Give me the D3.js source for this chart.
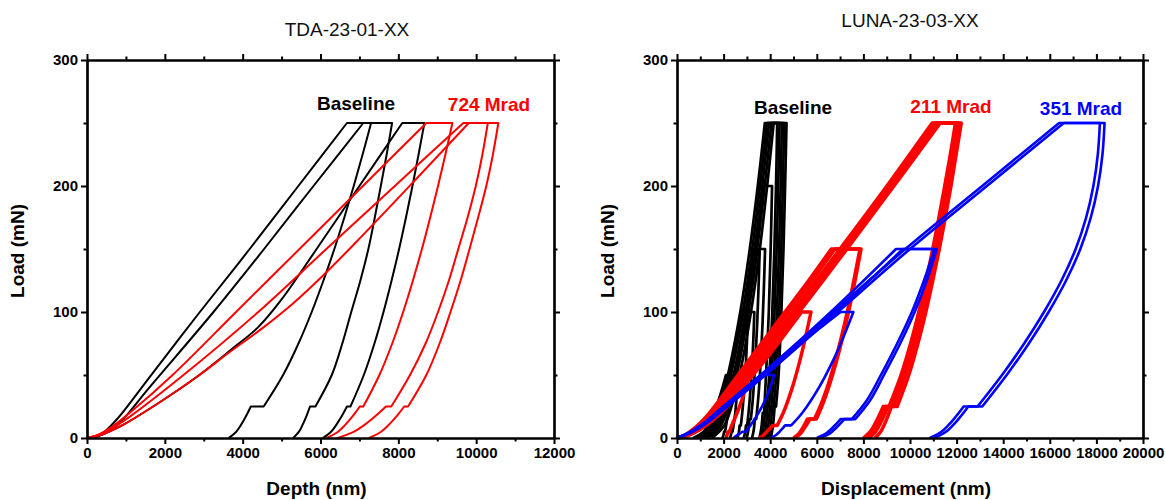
<!DOCTYPE html>
<html>
<head>
<meta charset="utf-8">
<script src="https://cdn.jsdelivr.net/npm/d3@7"></script>
<style>
  body { margin: 0; background: #fff; }
  text { font-family: Arial, "Liberation Sans", sans-serif; }
</style>
</head>
<body>
<svg id="chart" width="1165" height="500"></svg>
<script>
// ---------- axis ticks ----------
const loadTicks = [0, 100, 200, 300];
const loadMinor = [50, 150, 250];
const depthTicks = [0, 2000, 4000, 6000, 8000, 10000, 12000];
const depthMinor = [1000, 3000, 5000, 7000, 9000, 11000];
const dispTicks = [0, 2000, 4000, 6000, 8000, 10000, 12000, 14000, 16000, 18000, 20000];
const dispMinor = [1000, 3000, 5000, 7000, 9000, 11000, 13000, 15000, 17000, 19000];

// ---------- TDA-23-01-XX : [depth nm, load mN] ----------
// load = loading branch, unload = unloading down to the 10 % hold, tail = after the hold
const tdaBaseline = [
  { load: [[0,0],[200,1],[450,5],[800,16],[1600,48],[2900,100],[4180,150],[5430,200],[6680,250]],
    unload: [[7300,250],[7082,225],[6854,200],[6612,175],[6356,150],[6076,125],[5774,100],[5434,75],[5039,50],[4540,25]],
    tail: [[4210,25],[4131,20],[4045,15],[3950,10],[3835,5],[3640,0]] },
  { load: [[0,0],[250,1],[550,5],[900,14],[1600,40],[3250,100],[4550,150],[5820,200],[7100,250]],
    unload: [[7840,250],[7700,225],[7550,200],[7395,175],[7230,150],[7025,125],[6790,100],[6560,75],[6290,50],[5870,25]],
    tail: [[5730,25],[5671,20],[5606,15],[5533,10],[5447,5],[5300,0]] },
  { load: [[0,0],[400,3],[900,10],[1800,27],[2800,48],[3700,70],[4400,88],[5000,110],[5900,150],[7000,200],[8100,250]],
    unload: [[8670,250],[8520,225],[8363,200],[8196,175],[8020,150],[7827,125],[7619,100],[7386,75],[7113,50],[6770,25]],
    tail: [[6680,25],[6594,20],[6501,15],[6397,10],[6272,5],[6060,0]] }
];
const tda724 = [
  { load: [[0,0],[250,2],[600,8],[1100,20],[2200,50],[3830,100],[5460,150],[7090,200],[8720,250]],
    unload: [[9390,250],[9209,225],[9020,200],[8819,175],[8606,150],[8375,125],[8124,100],[7843,75],[7514,50],[7100,25]],
    tail: [[7010,25],[6893,20],[6764,15],[6622,10],[6451,5],[6160,0]] },
  { load: [[0,0],[250,2],[600,7],[1100,17],[2400,48],[4400,100],[6150,150],[7910,200],[9670,250]],
    unload: [[10300,250],[10160,225],[9990,200],[9780,175],[9540,150],[9300,125],[9020,100],[8700,75],[8300,50],[7820,25]],
    tail: [[7680,25],[7509,20],[7322,15],[7113,10],[6864,5],[6440,0]] },
  { load: [[0,0],[400,3],[900,10],[1800,27],[2800,48],[3700,69],[4500,87],[5300,107],[6100,130],[6900,155],[8350,202],[9810,250]],
    unload: [[10570,250],[10430,225],[10260,200],[10050,175],[9830,150],[9600,125],[9340,100],[9060,75],[8720,50],[8250,25]],
    tail: [[8150,25],[8026,20],[7890,15],[7739,10],[7558,5],[7250,0]] }
];

// ---------- LUNA-23-03-XX : [displacement nm, load mN] ----------
const lunaBaseline = [
  { load: [[900,0],[1474,10],[1808,25],[2183,50],[2715,100],[3123,150],[3467,200],[3770,250]],
    unload: [[4300,250],[4250,200],[4180,150],[4090,100],[3960,50],[3850,25]],
    tail: [[3790,25],[3720,10],[3620,0]] },
  { load: [[1050,0],[1612,10],[1939,25],[2307,50],[2827,100],[3227,150],[3563,200],[3860,250]],
    unload: [[4400,250],[4345,200],[4275,150],[4185,100],[4060,50],[3950,25]],
    tail: [[3890,25],[3820,10],[3720,0]] },
  { load: [[1200,0],[1750,10],[2070,25],[2430,50],[2940,100],[3330,150],[3660,200],[3950,250]],
    unload: [[4500,250],[4450,200],[4380,150],[4290,100],[4160,50],[4050,25]],
    tail: [[3990,25],[3920,10],[3830,0]] },
  { load: [[1350,0],[1890,10],[2204,25],[2557,50],[3058,100],[3442,150],[3765,200],[4050,250]],
    unload: [[4600,250],[4545,200],[4475,150],[4385,100],[4260,50],[4150,25]],
    tail: [[4090,25],[4020,10],[3930,0]] },
  { load: [[1500,0],[2030,10],[2337,25],[2685,50],[3175,100],[3554,150],[3869,200],[4150,250]],
    unload: [[4700,250],[4640,200],[4570,150],[4480,100],[4360,50],[4250,25]],
    tail: [[4190,25],[4120,10],[4030,0]] },
  { load: [[1200,0],[1990,20],[2450,50],[2968,100],[3365,150],[3700,200]],
    unload: [[4080,200],[4020,150],[3940,100],[3820,50],[3740,20]],
    tail: [[3680,20],[3620,8],[3540,0]] },
  { load: [[1000,0],[1711,15],[2006,30],[2423,60],[2743,90],[3012,120],[3250,150]],
    unload: [[3550,150],[3500,120],[3440,90],[3360,60],[3250,30],[3170,15]],
    tail: [[3110,15],[3060,6],[2990,0]] },
  { load: [[1300,0],[1980,15],[2261,30],[2660,60],[2965,90],[3223,120],[3450,150]],
    unload: [[3780,150],[3730,120],[3670,90],[3590,60],[3480,30],[3400,15]],
    tail: [[3340,15],[3290,6],[3220,0]] },
  { load: [[800,0],[1432,10],[1694,20],[2065,40],[2349,60],[2589,80],[2800,100]],
    unload: [[3050,100],[3010,80],[2960,60],[2890,40],[2800,20],[2740,10]],
    tail: [[2690,10],[2650,4],[2590,0]] },
  { load: [[1100,0],[1717,10],[1972,20],[2333,40],[2610,60],[2844,80],[3050,100]],
    unload: [[3320,100],[3280,80],[3230,60],[3160,40],[3070,20],[3010,10]],
    tail: [[2960,10],[2920,4],[2860,0]] },
  { load: [[700,0],[1143,5],[1326,10],[1585,20],[1784,30],[1952,40],[2100,50]],
    unload: [[2300,50],[2270,40],[2230,30],[2180,20],[2110,10],[2060,5]],
    tail: [[2020,5],[1990,2],[1950,0]] },
  { load: [[1000,0],[1443,5],[1626,10],[1885,20],[2084,30],[2252,40],[2400,50]],
    unload: [[2620,50],[2590,40],[2550,30],[2500,20],[2430,10],[2380,5]],
    tail: [[2340,5],[2310,2],[2270,0]] }
];
const luna211 = [
  { load: [[0,0],[350,2],[800,7],[1500,19],[2500,42],[3550,67],[4650,93],[6750,144],[8850,196],[10950,250]],
    unload: [[11950,250],[11730,225],[11490,200],[11240,175],[10975,150],[10690,125],[10375,100],[10025,75],[9615,50],[9100,25]],
    tail: [[8850,25],[8733,20],[8604,15],[8462,10],[8291,5],[8000,0]] },
  { load: [[0,0],[380,2],[850,7],[1580,19],[2580,42],[3630,67],[4730,93],[6830,144],[8930,196],[11050,250]],
    unload: [[12030,250],[11810,225],[11570,200],[11320,175],[11060,150],[10775,125],[10460,100],[10115,75],[9710,50],[9200,25]],
    tail: [[8950,25],[8835,20],[8710,15],[8570,10],[8410,5],[8120,0]] },
  { load: [[0,0],[400,2],[900,7],[1650,19],[2650,42],[3700,67],[4800,93],[6900,144],[9000,196],[11150,250]],
    unload: [[12100,250],[11880,225],[11650,200],[11400,175],[11140,150],[10860,125],[10550,100],[10210,75],[9810,50],[9300,25]],
    tail: [[9050,25],[8940,20],[8820,15],[8685,10],[8525,5],[8250,0]] },
  { load: [[0,0],[450,2],[1000,7],[1800,19],[2800,42],[3850,67],[4950,93],[7050,144],[9150,196],[11300,250]],
    unload: [[12200,250],[11980,225],[11760,200],[11515,175],[11260,150],[10980,125],[10680,100],[10340,75],[9950,50],[9450,25]],
    tail: [[9200,25],[9103,20],[8998,15],[8880,10],[8739,5],[8500,0]] },
  { load: [[0,0],[300,2],[700,7],[1350,19],[2300,42],[3300,67],[4350,93],[5650,125],[6620,150]],
    unload: [[7850,150],[7535,120],[7183,90],[6772,60],[6253,30],[5900,15]],
    tail: [[5600,15],[5517,12],[5427,9],[5326,6],[5205,3],[5000,0]] },
  { load: [[0,0],[350,2],[780,7],[1450,19],[2420,42],[3430,67],[4490,93],[5800,125],[6780,150]],
    unload: [[7900,150],[7590,120],[7240,90],[6830,60],[6320,30],[5980,15]],
    tail: [[5700,15],[5610,12],[5510,9],[5400,6],[5270,3],[5060,0]] },
  { load: [[0,0],[450,2],[1000,7],[1850,19],[2900,42],[4000,67],[5350,100]],
    unload: [[5750,100],[5516,80],[5254,60],[4948,40],[4562,20],[4300,10]],
    tail: [[4100,10],[4010,8],[3910,6],[3800,4],[3700,2],[3530,0]] },
  { load: [[0,0],[350,2],[800,7],[1500,19],[2300,38],[2700,50]],
    unload: [[3100,50],[2950,40],[2780,30],[2580,20],[2350,10],[2250,5]],
    tail: [[2200,5],[2160,3],[2100,0]] }
];
const luna351 = [
  { load: [[0,0],[500,4],[1100,11],[2000,25],[3600,50],[6700,100],[9800,150],[13100,200],[16400,250]],
    unload: [[18150,250],[18060,225],[17870,200],[17560,175],[17110,150],[16500,125],[15750,100],[14900,75],[13950,50],[12900,25]],
    tail: [[12300,25],[12100,20],[11881,15],[11637,10],[11346,5],[10850,0]] },
  { load: [[0,0],[550,4],[1200,11],[2150,25],[3800,50],[6900,100],[10000,150],[13300,200],[16600,250]],
    unload: [[18350,250],[18260,225],[18070,200],[17760,175],[17310,150],[16700,125],[15950,100],[15100,75],[14150,50],[13100,25]],
    tail: [[12500,25],[12300,20],[12081,15],[11837,10],[11546,5],[11050,0]] },
  { load: [[0,0],[500,4],[1100,11],[2000,25],[3600,50],[6600,100],[9400,150]],
    unload: [[11050,150],[10600,125],[10080,100],[9450,75],[8750,50],[8150,30],[7500,15]],
    tail: [[7020,15],[6880,12],[6720,9],[6550,6],[6350,3],[6000,0]] },
  { load: [[0,0],[550,4],[1200,11],[2150,25],[3750,50],[6800,100],[9700,150]],
    unload: [[11150,150],[10720,125],[10200,100],[9580,75],[8880,50],[8290,30],[7650,15]],
    tail: [[7180,15],[7040,12],[6880,9],[6710,6],[6510,3],[6170,0]] },
  { load: [[0,0],[500,4],[1100,11],[2000,25],[3600,50],[7020,100]],
    unload: [[7570,100],[7140,80],[6660,60],[6090,40],[5380,20],[4900,10]],
    tail: [[4640,10],[4550,8],[4450,6],[4350,4],[4220,2],[4000,0]] },
  { load: [[0,0],[500,4],[1100,11],[2000,25],[3690,50]],
    unload: [[4170,50],[4000,40],[3780,30],[3500,20],[3150,10],[2950,5]],
    tail: [[2800,5],[2730,4],[2650,3],[2560,2],[2420,0]] }
];

// ---------- drawing ----------
const svg = d3.select("#chart");
const Y_TOP = 60, Y_BOTTOM = 438;

const seg = (x, y) => d3.line()
  .x(d => x(d[0])).y(d => y(d[1]))
  .curve(d3.curveCatmullRom.alpha(0.5));

// loading, hold, unloading, 10 % hold and final unloading as one path
function indentPath(ind, x, y) {
  const line = seg(x, y);
  return [ind.load, ind.unload, ind.tail]
    .map((pts, i) => { const s = line(pts); return i ? "L" + s.slice(1) : s; })
    .join("");
}

function drawPanel(cfg) {
  const g = svg.append("g");
  const x = d3.scaleLinear().domain([0, cfg.xMax]).range([cfg.left, cfg.left + cfg.width]);
  const y = d3.scaleLinear().domain([0, 300]).range([Y_BOTTOM, Y_TOP]);

  cfg.series.forEach(s => {
    g.append("g").selectAll("path").data(s.data).join("path")
      .attr("d", d => indentPath(d, x, y))
      .attr("fill", "none")
      .attr("stroke", s.color)
      .attr("stroke-width", s.width)
      .attr("stroke-linejoin", "round");
  });

  const fmt = d3.format("d");
  const styleAxis = sel => {
    sel.selectAll("path.domain").attr("stroke", "#000").attr("stroke-width", 2.2);
    sel.selectAll(".tick line").attr("stroke", "#000").attr("stroke-width", 2);
    sel.selectAll("text").attr("font-size", 15).attr("font-weight", "bold")
      .attr("font-family", "Arial, 'Liberation Sans', sans-serif").attr("fill", "#000");
  };
  const add = (axis, tx, ty) => g.append("g").attr("transform", `translate(${tx},${ty})`).call(axis).call(styleAxis);

  add(d3.axisBottom(x).tickValues(cfg.minor).tickSize(3.5).tickSizeOuter(0).tickFormat(""), 0, Y_BOTTOM);
  add(d3.axisBottom(x).tickValues(cfg.ticks).tickSize(6).tickSizeOuter(0).tickPadding(3).tickFormat(fmt), 0, Y_BOTTOM);
  add(d3.axisTop(x).tickValues(cfg.minor).tickSize(3.5).tickSizeOuter(0).tickFormat(""), 0, Y_TOP);
  add(d3.axisTop(x).tickValues(cfg.ticks).tickSize(6).tickSizeOuter(0).tickFormat(""), 0, Y_TOP);
  add(d3.axisLeft(y).tickValues(loadMinor).tickSize(3.5).tickSizeOuter(0).tickFormat(""), cfg.left, 0);
  add(d3.axisLeft(y).tickValues(loadTicks).tickSize(6).tickSizeOuter(0).tickPadding(3).tickFormat(fmt), cfg.left, 0);
  add(d3.axisRight(y).tickValues(loadMinor).tickSize(3.5).tickSizeOuter(0).tickFormat(""), cfg.left + cfg.width, 0);
  add(d3.axisRight(y).tickValues(loadTicks).tickSize(6).tickSizeOuter(0).tickFormat(""), cfg.left + cfg.width, 0);

  svg.append("text").attr("x", cfg.titleX).attr("y", cfg.titleY)
    .attr("text-anchor", "middle").attr("font-size", 19).attr("fill", "#111").text(cfg.title);
  svg.append("text").attr("x", cfg.left + cfg.width / 2 - 4).attr("y", 495)
    .attr("text-anchor", "middle").attr("font-size", 19).attr("font-weight", "bold").text(cfg.xLabel);
  svg.append("text").attr("transform", `translate(${cfg.yLabelX},${(Y_TOP + Y_BOTTOM) / 2 + 2}) rotate(-90)`)
    .attr("text-anchor", "middle").attr("font-size", 19).attr("font-weight", "bold").text("Load (mN)");

  cfg.labels.forEach(l => {
    svg.append("text").attr("x", l.x).attr("y", l.y).attr("text-anchor", "middle")
      .attr("font-size", 19).attr("font-weight", "bold").attr("fill", l.color).text(l.text);
  });
}

drawPanel({
  left: 87, width: 467, xMax: 12000, ticks: depthTicks, minor: depthMinor,
  title: "TDA-23-01-XX", titleX: 347, titleY: 36,
  xLabel: "Depth (nm)", yLabelX: 24,
  series: [
    { data: tdaBaseline, color: "#000000", width: 2 },
    { data: tda724, color: "#ff0000", width: 2 }
  ],
  labels: [
    { text: "Baseline", x: 356, y: 110, color: "#000000" },
    { text: "724 Mrad", x: 489, y: 111, color: "#ff0000" }
  ]
});

drawPanel({
  left: 677, width: 466, xMax: 20000, ticks: dispTicks, minor: dispMinor,
  title: "LUNA-23-03-XX", titleX: 910, titleY: 27,
  xLabel: "Displacement (nm)", yLabelX: 614,
  series: [
    { data: lunaBaseline, color: "#000000", width: 2.7 },
    { data: luna211, color: "#ff0000", width: 3.5 },
    { data: luna351, color: "#0000ff", width: 2.6 }
  ],
  labels: [
    { text: "Baseline", x: 793, y: 114, color: "#000000" },
    { text: "211 Mrad", x: 951, y: 113, color: "#ff0000" },
    { text: "351 Mrad", x: 1081, y: 115, color: "#0000ff" }
  ]
});
</script>
</body>
</html>
